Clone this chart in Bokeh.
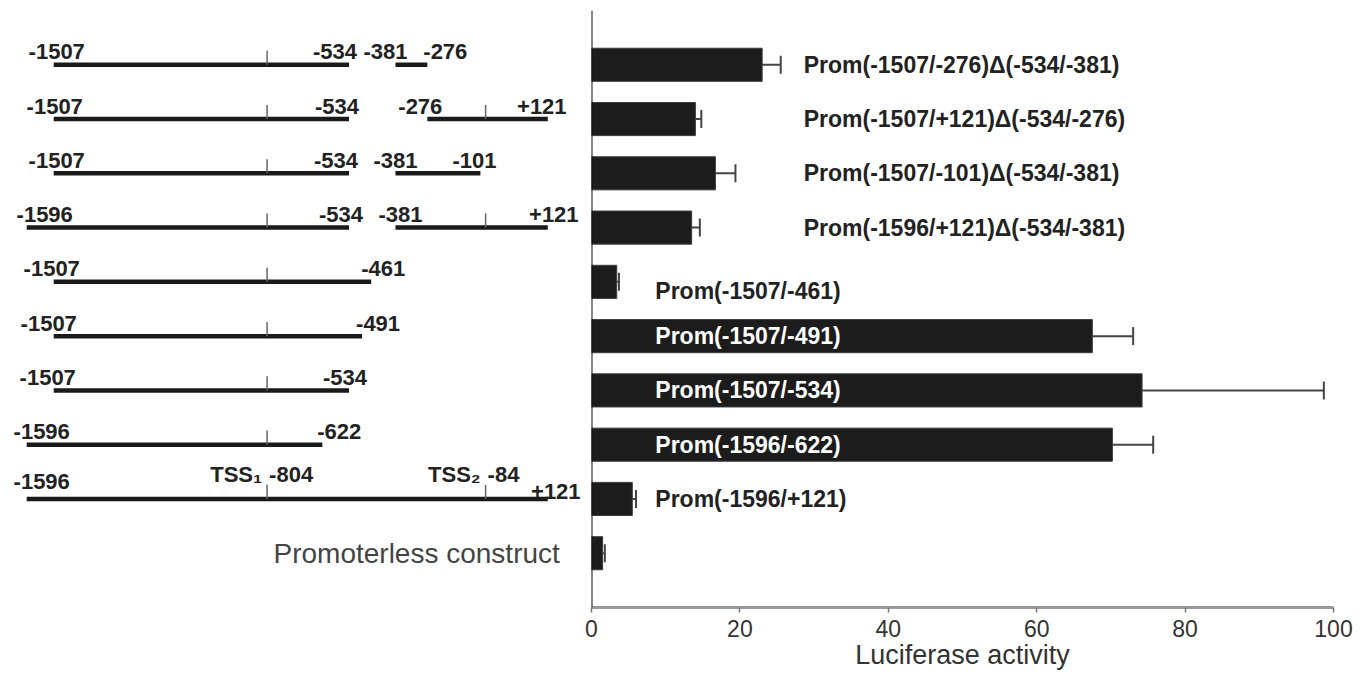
import numpy as np
from bokeh.plotting import figure
from bokeh.models import ColumnDataSource, Range1d, FixedTicker, Span, Whisker, TeeHead
from bokeh.layouts import row
from bokeh.embed import file_html
from bokeh.resources import INLINE
from bokeh.core.properties import value

# ---------------- data ----------------
constructs = [
    "Prom(-1507/-276)\u0394(-534/-381)",
    "Prom(-1507/+121)\u0394(-534/-276)",
    "Prom(-1507/-101)\u0394(-534/-381)",
    "Prom(-1596/+121)\u0394(-534/-381)",
    "Prom(-1507/-461)",
    "Prom(-1507/-491)",
    "Prom(-1507/-534)",
    "Prom(-1596/-622)",
    "Prom(-1596/+121)",
    "Promoterless construct",
]
activity = [23.0, 14.0, 16.7, 13.5, 3.4, 67.5, 74.2, 70.2, 5.5, 1.5]
activity_err = [2.5, 0.8, 2.7, 1.1, 0.3, 5.5, 24.5, 5.5, 0.5, 0.3]
seg_start = [[-1507, -381], [-1507, -276], [-1507, -381], [-1596, -381],
             [-1507], [-1507], [-1507], [-1596], [-1596], []]
seg_end = [[-534, -276], [-534, 121], [-534, -101], [-534, 121],
           [-461], [-491], [-534], [-622], [121], []]
tss_pos = [-804, -84]
tss_names = ["TSS\u2081", "TSS\u2082"]
x_ticks = [0, 20, 40, 60, 80, 100]

# ---------------- style / layout nudges (screen px) ----------------
label_dx = [[3, -14, -10, 18], [1, -12, -7, -6], [3, -13, 0, -6], [18, -8, 5, 6],
            [-2, 12], [-5, 16], [-6, -4], [15, 17], [15, 8], []]
label_dy_default = -13
label_dy_special = {8: [-17, -7]}
tss_label_row = 8
FONT = "Liberation Sans"

n = len(constructs)
ys = [n - i for i in range(n)]
yr = Range1d(0, n + 1)

H = 677
TOP = 10
BOTTOM = 70

# ---------------- left panel: construct maps ----------------
left = figure(width=581, height=H, x_range=Range1d(-1656, 232), y_range=yr,
              output_backend="svg", toolbar_location=None,
              min_border_left=8, min_border_right=0, min_border_top=TOP, min_border_bottom=BOTTOM)
left.axis.visible = False
left.grid.visible = False
left.outline_line_color = None

sx0, sx1, sy = [], [], []
tx, ty0, ty1 = [], [], []
lab_x, lab_y, lab_t, lab_dx, lab_dy = [], [], [], [], []
for i in range(n):
    k = 0
    for s, e in zip(seg_start[i], seg_end[i]):
        sx0.append(s); sx1.append(e); sy.append(ys[i])
        for t in tss_pos:
            if s <= t <= e:
                tx.append(t); ty0.append(ys[i]); ty1.append(ys[i] + 0.26)
        for v in (s, e):
            lab_x.append(v); lab_y.append(ys[i])
            lab_t.append(("+%d" % v) if v > 0 else str(v))
            lab_dx.append(label_dx[i][k])
            dy = label_dy_special.get(i, None)
            lab_dy.append(dy[k] if dy is not None else label_dy_default)
            k += 1

left.segment(x0=sx0, x1=sx1, y0=sy, y1=sy, line_color="#1a1a1a", line_width=4.5)
left.segment(x0=tx, x1=tx, y0=ty0, y1=ty1, line_color="#666666", line_width=1.5)

lsrc = ColumnDataSource(dict(x=lab_x, y=lab_y, t=lab_t, dx=lab_dx, dy=lab_dy))
left.text(x="x", y="y", text="t", x_offset="dx", y_offset="dy", source=lsrc,
          text_align="center", text_baseline="middle", text_font=value(FONT),
          text_font_style="bold", text_font_size="22px", text_color="#222222")

# TSS labels on the full-length construct
yt = ys[tss_label_row]
left.text(x=tss_pos, y=[yt] * len(tss_pos), text=tss_names, x_offset=-5, y_offset=-24,
          text_align="right", text_baseline="middle", text_font=value(FONT),
          text_font_style="bold", text_font_size="22px", text_color="#222222")
left.text(x=tss_pos, y=[yt] * len(tss_pos), text=[str(t) for t in tss_pos], x_offset=2, y_offset=-24,
          text_align="left", text_baseline="middle", text_font=value(FONT),
          text_font_style="bold", text_font_size="22px", text_color="#222222")

# promoterless construct name
left.text(x=[max(max(e) for e in seg_end if e)], y=[ys[-1]], text=[constructs[-1]], x_offset=12,
          text_align="right", text_baseline="middle", text_font=value(FONT),
          text_font_size="28px", text_color="#444444")

# ---------------- right panel: luciferase bars ----------------
right = figure(width=782, height=H, x_range=Range1d(0, 100), y_range=yr,
               output_backend="svg", toolbar_location=None,
               min_border_left=10, min_border_right=30, min_border_top=TOP, min_border_bottom=BOTTOM)
right.yaxis.visible = False
right.grid.visible = False
right.outline_line_color = None

src = ColumnDataSource(dict(y=ys, v=activity,
                            hi=[a + e for a, e in zip(activity, activity_err)]))
right.hbar(y="y", left=0, right="v", height=0.61, source=src,
           fill_color="#1c1c1c", line_color="#3c3c3c", line_width=1)
right.add_layout(Whisker(source=src, base="y", lower="v", upper="hi", dimension="width",
                         line_color="#444444", line_width=2, lower_head=None,
                         upper_head=TeeHead(size=18, line_color="#444444", line_width=2)))
right.add_layout(Span(location=0, dimension="height", line_color="#111111", line_width=2))

rl_x, rl_y, rl_t, rl_c, rl_dy = [], [], [], [], []
for i in range(n - 1):
    lx = 28.6 if "\u0394" in constructs[i] else 8.6
    rl_x.append(lx); rl_y.append(ys[i]); rl_t.append(constructs[i])
    rl_c.append("#ffffff" if activity[i] > lx + 25 else "#222222")
    rl_dy.append(9 if i == 4 else 0)
rsrc = ColumnDataSource(dict(x=rl_x, y=rl_y, t=rl_t, c=rl_c, dy=rl_dy))
right.text(x="x", y="y", text="t", text_color="c", y_offset="dy", source=rsrc,
           text_align="left", text_baseline="middle", text_font=value(FONT),
           text_font_style="bold", text_font_size="23px")

ax = right.xaxis[0]
ax.ticker = FixedTicker(ticks=x_ticks)
ax.axis_label = "Luciferase activity"
ax.axis_label_text_font = FONT
ax.axis_label_text_font_style = "normal"
ax.axis_label_text_font_size = "27px"
ax.axis_label_text_color = "#333333"
ax.axis_label_standoff = 0
ax.major_label_text_font = FONT
ax.major_label_text_font_size = "23px"
ax.major_label_text_color = "#333333"
ax.major_label_standoff = 7
ax.axis_line_color = "#9a9a9a"
ax.axis_line_width = 3
ax.major_tick_line_color = "#777777"
ax.major_tick_line_width = 1.5
ax.major_tick_in = 0
ax.major_tick_out = 5
ax.minor_tick_line_color = None

layout = row(left, right)
open("out.html", "w").write(file_html(layout, INLINE))
